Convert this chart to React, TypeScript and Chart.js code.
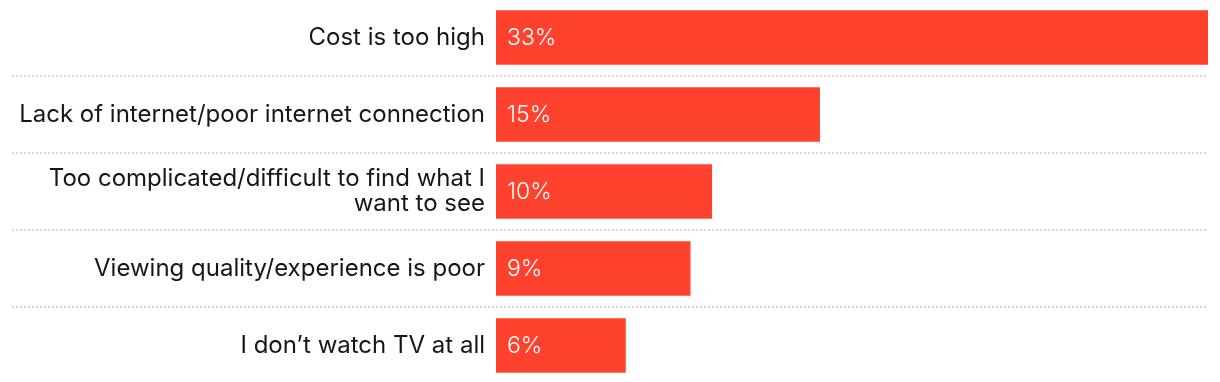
import React, { useEffect, useRef } from "react";
import { Chart, registerables } from "chart.js";

Chart.register(...registerables);

const categories: (string | string[])[] = [
  "Cost is too high",
  "Lack of internet/poor internet connection",
  ["Too complicated/difficult to find what I", "want to see"],
  "Viewing quality/experience is poor",
  "I don\u2019t watch TV at all",
];
const values = [33, 15, 10, 9, 6];
const valueLabels = ["33%", "15%", "10%", "9%", "6%"];

const FONT = "Inter, 'Noto Sans', sans-serif";
const BAR = "#FF422D";

const separatorPlugin = {
  id: "separators",
  beforeDatasetsDraw(chart: any) {
    const { ctx, chartArea, scales } = chart;
    const y = scales.y;
    ctx.save();
    ctx.strokeStyle = "#d6d6d6";
    ctx.lineWidth = 2;
    ctx.setLineDash([2, 2]);
    for (let i = 0; i < values.length - 1; i++) {
      const py = Math.round((y.getPixelForValue(i) + y.getPixelForValue(i + 1)) / 2);
      ctx.beginPath();
      ctx.moveTo(12, py);
      ctx.lineTo(chartArea.right, py);
      ctx.stroke();
    }
    ctx.restore();
  },
};

const valuePlugin = {
  id: "valueLabels",
  afterDatasetsDraw(chart: any) {
    const { ctx } = chart;
    const meta = chart.getDatasetMeta(0);
    ctx.save();
    ctx.fillStyle = "#ffffff";
    ctx.font = `300 23px ${FONT}`;
    ctx.textAlign = "left";
    ctx.textBaseline = "middle";
    meta.data.forEach((bar: any, i: number) => {
      ctx.fillText(valueLabels[i], bar.base + 11, bar.y + 1);
    });
    ctx.restore();
  },
};

export default function App() {
  const ref = useRef<HTMLCanvasElement>(null);
  useEffect(() => {
    if (!ref.current) return;
    const chart = new Chart(ref.current, {
      type: "bar",
      data: {
        labels: categories,
        datasets: [
          {
            data: values,
            backgroundColor: BAR,
            borderWidth: 0,
            barThickness: 54,
          },
        ],
      },
      options: {
        indexAxis: "y",
        animation: false,
        responsive: true,
        maintainAspectRatio: false,
        layout: { padding: { left: 0, right: 12, top: 0, bottom: 0 } },
        plugins: {
          legend: { display: false },
          tooltip: { enabled: false },
        },
        scales: {
          x: {
            min: 0,
            max: 33,
            display: false,
          },
          y: {
            grid: { display: false, drawTicks: false },
            border: { display: false },
            ticks: {
              color: "#161616",
              padding: 11,
              font: { family: FONT, size: 24, weight: 400, lineHeight: 1.05 },
            },
            afterFit(scale: any) {
              scale.width = 496;
              scale.paddingTop = 0;
              scale.paddingBottom = 0;
            },
          },
        },
      },
      plugins: [separatorPlugin, valuePlugin],
    });
    return () => chart.destroy();
  }, []);
  return (
    <div style={{ position: "absolute", left: 0, top: -1.5, width: 1220, height: 385 }}>
      <canvas ref={ref} />
    </div>
  );
}
